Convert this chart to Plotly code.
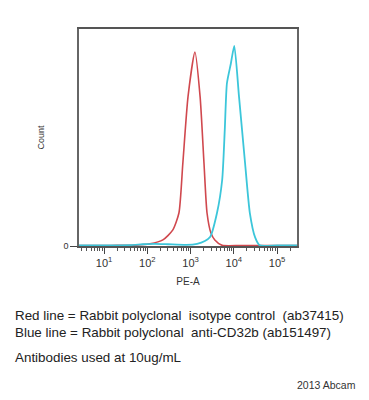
import plotly.graph_objects as go

# Red line: isotype control (x = PE-A intensity, y = count, relative)
red_x = [2.6, 5, 10, 20, 47, 115, 229, 389, 537, 661, 871, 1259, 1660, 2042, 2399, 2951, 3631, 5370, 13800, 40000, 288000]
red_y = [0.2, 0.2, 0.2, 0.3, 0.3, 1.0, 2.8, 7.4, 15.2, 38, 68.7, 89.4, 68.7, 38, 15.2, 6.0, 2.8, 0.3, 0.2, 0.2, 0.2]

# Blue line: anti-CD32b
blue_x = [2.6, 10, 40, 80, 150, 300, 800, 1413, 2138, 2818, 4074, 5370, 6166, 6918, 8511, 10230, 13180, 18200, 23440, 30900, 39800, 100000, 288000]
blue_y = [0.3, 0.3, 0.4, 0.8, 1.0, 0.8, 0.5, 1.0, 2.3, 4.1, 15.2, 30.4, 53.5, 75, 84, 92.2, 68.7, 38, 15.2, 4.1, 0.3, 0.3, 0.3]

tick_vals = [10, 100, 1000, 10000, 100000]
tick_text = ["10<sup>1</sup>", "10<sup>2</sup>", "10<sup>3</sup>", "10<sup>4</sup>", "10<sup>5</sup>"]
minor_vals = [m * 10 ** k for k in range(0, 6) for m in range(2, 10)]

fig = go.Figure()
fig.add_trace(go.Scatter(x=red_x, y=red_y, mode="lines",
                         line=dict(color="rgb(208,72,78)", width=1.6, shape="spline", smoothing=0.6)))
fig.add_trace(go.Scatter(x=blue_x, y=blue_y, mode="lines",
                         line=dict(color="rgb(60,198,218)", width=1.8, shape="spline", smoothing=0.6)))

# page body has an 8px margin; figure is sized to fit the window exactly
fig.update_layout(
    width=353, height=384,
    margin=dict(l=71, r=64, t=21, b=146, autoexpand=False),
    paper_bgcolor="white", plot_bgcolor="white",
    showlegend=False,
    font=dict(family="Liberation Sans, Arial", color="#333"),
)
fig.update_xaxes(
    type="log", range=[0.42, 5.46],
    tickvals=tick_vals, ticktext=tick_text,
    ticks="outside", ticklen=6, tickcolor="#444", tickwidth=1,
    tickfont=dict(size=11, color="#333"),
    minor=dict(tickvals=minor_vals, ticks="outside", ticklen=3, tickcolor="#555"),
    showgrid=False, zeroline=False,
    showline=True, linecolor="#555", linewidth=1.5, mirror=True,
    title=dict(text="PE-A", font=dict(size=10, color="#333"), standoff=10),
)
fig.update_yaxes(
    range=[0, 100],
    tickvals=[0], ticktext=["0"],
    ticks="outside", ticklen=7, tickcolor="#444",
    tickfont=dict(size=9, color="#333"),
    showgrid=False, zeroline=False,
    showline=True, linecolor="#666", linewidth=1.5, mirror=True,
    title=dict(text="Count", font=dict(size=9, color="#333"), standoff=17),
)

H = 217.0
def py(px):
    return (246 - px) / H

fig.add_annotation(text="Red line = Rabbit polyclonal  isotype control  (ab37415)",
                   xref="paper", yref="paper", x=(13 - 79) / 218.0, y=py(315),
                   xanchor="left", yanchor="middle", showarrow=False,
                   font=dict(size=13.4, color="#222"))
fig.add_annotation(text="Blue line = Rabbit polyclonal  anti-CD32b (ab151497)",
                   xref="paper", yref="paper", x=(13 - 79) / 218.0, y=py(332),
                   xanchor="left", yanchor="middle", showarrow=False,
                   font=dict(size=13.4, color="#222"))
fig.add_annotation(text="Antibodies used at 10ug/mL",
                   xref="paper", yref="paper", x=(13 - 79) / 218.0, y=py(357),
                   xanchor="left", yanchor="middle", showarrow=False,
                   font=dict(size=13.4, color="#222"))
fig.add_annotation(text="2013 Abcam",
                   xref="paper", yref="paper", x=(358 - 79) / 218.0, y=py(385),
                   xanchor="right", yanchor="middle", showarrow=False,
                   font=dict(size=10.5, color="#333"))

fig.write_html("out.html")
